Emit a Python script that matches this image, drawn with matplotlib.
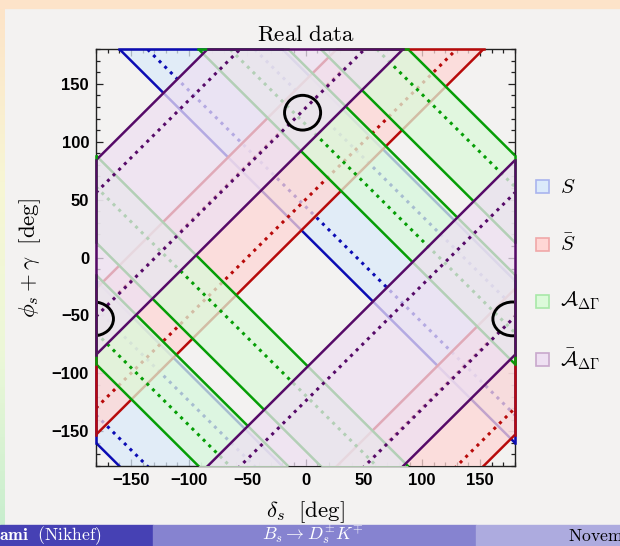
import numpy as np
import matplotlib
matplotlib.use('Agg')
import matplotlib.pyplot as plt
from matplotlib.patches import Rectangle, Ellipse
from matplotlib.ticker import MultipleLocator

plt.rcParams['mathtext.fontset'] = 'cm'

# --- data (degrees) ---
# S and A_dG are bands in (delta_s + phi_s + gamma), S-bar and A-bar in (phi_s + gamma - delta_s)
S_bands = [(20, 160), (-340, -200)]
S_centres = [44, 136, -316, -224]
Sbar_bands = [(27, 153), (-333, -207)]
Sbar_centres = [50, 130, -310, -230]
A_bands = [(88, 165), (193, 268), (-272, -195), (-167, -92)]
A_centres = [115, 241, -245, -119]
Abar_bands = [(96, 264), (-264, -96)]
Abar_centres = [129, 236, -231, -124]

# 1 sigma contours of the fit: centre x, centre y, half width, half height
fit_x = [-2.5, 178, -182]
fit_y = [125, -53, -53]
fit_w = [15.5, 17, 17]
fit_h = [15, 14.6, 14.6]

legend_labels = [r'$S$', r'$\bar{S}$', r'$\mathcal{A}_{\Delta\Gamma}$',
                 r'$\bar{\mathcal{A}}_{\Delta\Gamma}$']
ticks = [-150, -100, -50, 0, 50, 100, 150]

# colours: line, fill, legend edge
layers = [
    ('sum', S_bands, S_centres, '#0c0cb4', '#dbeafa', '#a9b4ee'),
    ('diff', Sbar_bands, Sbar_centres, '#b80a0a', '#ffd7d5', '#f0a8a8'),
    ('sum', A_bands, A_centres, '#069e06', '#dcfada', '#a8e8a8'),
    ('diff', Abar_bands, Abar_centres, '#560a68', '#eee0f2', '#c8a8cc'),
]
ALPHA = 0.75
LIM = 180


def band_line(kind, c):
    xs = np.array([-LIM, LIM])
    if kind == 'sum':
        return xs, c - xs
    return xs, c + xs


def edge_segments(kind, a, b):
    # where a band meets the top, left and right edges of the plot range
    segs = []
    if kind == 'sum':
        sides = [('top', a - LIM, b - LIM), ('left', a + LIM, b + LIM),
                 ('right', a - LIM, b - LIM)]
    else:
        sides = [('top', LIM - b, LIM - a), ('left', a - LIM, b - LIM),
                 ('right', a + LIM, b + LIM)]
    for side, lo, hi in sides:
        lo, hi = max(lo, -LIM), min(hi, LIM)
        if hi <= lo:
            continue
        if side == 'top':
            segs.append(([lo, hi], [LIM, LIM]))
        elif side == 'left':
            segs.append(([-LIM, -LIM], [lo, hi]))
        else:
            segs.append(([LIM, LIM], [lo, hi]))
    return segs


fig = plt.figure(figsize=(6.2, 5.46), dpi=100)
fig.patch.set_facecolor('#f3f2f1')
W, H = 620.0, 546.0

# slide decorations
fig.patches.append(Rectangle((0, 1 - 8 / H), 1, 8 / H, transform=fig.transFigure,
                             color='#fde3c9', zorder=0))
grad = fig.add_axes([0, 21 / H, 5 / W, (H - 29) / H])
cols = np.array([[253, 228, 200], [247, 246, 212], [236, 248, 216], [200, 238, 206]]) / 255
cmap = matplotlib.colors.LinearSegmentedColormap.from_list('strip', cols)
grad.imshow(np.linspace(0, 1, 200)[:, None].repeat(2, 1), aspect='auto', cmap=cmap)
grad.axis('off')
for x0, x1, c in [(0, 153, '#4641b4'), (153, 476, '#8683d0'), (476, 620, '#adabdf')]:
    fig.patches.append(Rectangle((x0 / W, 0), (x1 - x0) / W, 21 / H,
                                 transform=fig.transFigure, color=c, zorder=0))
fig.text(-1 / W, 0.019, r'$\mathbf{ami}\ \ \mathrm{(Nikhef)}$', color='white',
         fontsize=12.7, va='center', ha='left')
fig.text(313 / W, 0.022, r'$B_s \to D_s^{\pm}K^{\mp}$', color='white',
         fontsize=13, va='center', ha='center')
fig.text(568 / W, 0.019, r'$\mathrm{Novem}$', color='black',
         fontsize=12.7, va='center', ha='left')

ax = fig.add_axes([96 / W, 1 - 466 / H, 419 / W, 417 / H])
ax.set_facecolor('#f3f2f1')
ax.set_xlim(-LIM, LIM)
ax.set_ylim(-LIM, LIM)

z = 2
for kind, bands, centres, lc, fc, ec in layers:
    xs = np.array([-LIM, LIM])
    for a, b in bands:
        if kind == 'sum':
            ax.fill_between(xs, a - xs, b - xs, color=fc, alpha=ALPHA, lw=0, zorder=z)
        else:
            ax.fill_between(xs, a + xs, b + xs, color=fc, alpha=ALPHA, lw=0, zorder=z)
    for a, b in bands:
        for c in (a, b):
            ax.plot(*band_line(kind, c), color=lc, lw=1.8, zorder=z + 0.5,
                    solid_capstyle='butt')
        for sx, sy in edge_segments(kind, a, b):
            ax.plot(sx, sy, color=lc, lw=1.8, zorder=20 + z, clip_on=False)
    for c in centres:
        ax.plot(*band_line(kind, c), color=lc, lw=2.2, ls=(0, (1.0, 1.6)),
                zorder=z + 0.5)
    z += 1

for cx, cy, w, h in zip(fit_x, fit_y, fit_w, fit_h):
    ax.add_patch(Ellipse((cx, cy), 2 * w, 2 * h, fill=False, ec='black', lw=2.1,
                         zorder=15))

ax.set_xticks(ticks)
ax.set_yticks(ticks)
ax.xaxis.set_minor_locator(MultipleLocator(10))
ax.yaxis.set_minor_locator(MultipleLocator(10))
ax.tick_params(which='both', direction='in', top=True, right=True, width=0.9,
               color='#222222')
ax.tick_params(which='major', length=5, pad=5)
ax.tick_params(which='minor', length=2.8)
for lab in ax.get_xticklabels() + ax.get_yticklabels():
    lab.set_fontfamily('Liberation Sans')
    lab.set_fontweight('bold')
    lab.set_fontsize(12)
for sp in ax.spines.values():
    sp.set_linewidth(1.0)
    sp.set_color('#222222')

ax.set_title(r'$\mathrm{Real\ data}$', fontsize=16.5, pad=6)
ax.set_xlabel(r'$\delta_s\ \ [\mathrm{deg}]$', fontsize=16.5, labelpad=8)
ax.set_ylabel(r'$\phi_s+\gamma\ \ [\mathrm{deg}]$', fontsize=16.5, labelpad=6)

# legend
for i, (lab, layer) in enumerate(zip(legend_labels, layers)):
    yc = 1 - [186.7, 244.3, 301, 359.5][i] / H
    fig.patches.append(Rectangle((536 / W, yc - 6.5 / H), 13 / W, 13 / H,
                                 transform=fig.transFigure, fc=layer[4],
                                 ec=layer[5], lw=1.2, zorder=3))
    fig.text(560 / W, yc, lab, fontsize=15, va='center', ha='left')

fig.savefig('out.png', dpi=100, facecolor=fig.get_facecolor())
